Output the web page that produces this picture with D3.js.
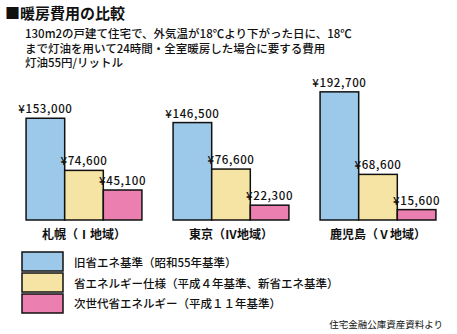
<!DOCTYPE html>
<html><head><meta charset="utf-8">
<script src="https://cdn.jsdelivr.net/npm/d3@7"></script>
<style>body{margin:0;background:#fff}svg{display:block}text{font-family:"Noto Sans CJK JP","Noto Sans",sans-serif;fill:#111}</style>
</head><body>
<script>
const categories = ["札幌（Ⅰ地域）", "東京（Ⅳ地域）", "鹿児島（Ⅴ地域）"];
const seriesNames = ["旧省エネ基準（昭和55年基準）", "省エネルギー仕様（平成４年基準、新省エネ基準）", "次世代省エネルギー（平成１１年基準）"];
const oldStd = [153000, 146500, 192700];
const newStd = [74600, 76600, 68600];
const nextGen = [45100, 22300, 15600];
const colors = ["#9cc9e9", "#f5e4a3", "#eb7fb0"];
const title = "■暖房費用の比較";
const subtitle = ["130m2の戸建て住宅で、外気温が18℃より下がった日に、18℃", "まで灯油を用いて24時間・全室暖房した場合に要する費用", "灯油55円/リットル"];
const source = "住宅金融公庫資産資料より";

const W = 457, H = 334;
const svg = d3.select("body").append("svg").attr("width", W).attr("height", H);
const series = [oldStd, newStd, nextGen];

svg.append("text").attr("x", 5).attr("y", 19).attr("font-size", 15).attr("font-weight", "bold").text(title);
subtitle.forEach((s, i) => svg.append("text").attr("x", 25).attr("y", 38 + i * 14.5).attr("font-size", 11.5).attr("font-weight", 500).text(s));

const x0 = d3.scaleBand().domain(categories).range([10.5, 451.5]).paddingInner(0.212).paddingOuter(0.106);
const x1 = d3.scaleBand().domain(d3.range(series.length)).range([0, x0.bandwidth()]);
const y = d3.scaleLinear().domain([0, 200000]).range([220, 87]);
const fmt = v => "¥" + d3.format(",")(v);

categories.forEach((c, ci) => {
  const g = svg.append("g").attr("transform", `translate(${x0(c)},0)`);
  series.forEach((s, si) => {
    g.append("rect").attr("x", x1(si)).attr("y", y(s[ci])).attr("width", x1.bandwidth()).attr("height", y(0) - y(s[ci]))
      .attr("fill", colors[si]).attr("stroke", "#111").attr("stroke-width", 1.5);
    g.append("text").attr("x", x1(si) + x1.bandwidth() / 2).attr("y", y(s[ci]) - 5).attr("text-anchor", "middle")
      .attr("font-size", 11.5).attr("font-weight", 500).attr("letter-spacing", 0.6).text(fmt(s[ci]));
  });
  svg.append("text").attr("x", x0(c) + x0.bandwidth() / 2).attr("y", 239).attr("text-anchor", "middle")
    .attr("font-size", 12).attr("font-weight", 600).text(c);
});

seriesNames.forEach((n, i) => {
  svg.append("rect").attr("x", 22).attr("y", 252 + i * 21).attr("width", 41).attr("height", 19)
    .attr("fill", colors[i]).attr("stroke", "#111").attr("stroke-width", 1.5);
  svg.append("text").attr("x", 74).attr("y", 267 + i * 20.5).attr("font-size", 11.5).attr("font-weight", 500).text(n);
});
svg.append("text").attr("x", 443).attr("y", 328).attr("text-anchor", "end").attr("font-size", 9.5).text(source);
</script>
</body></html>
